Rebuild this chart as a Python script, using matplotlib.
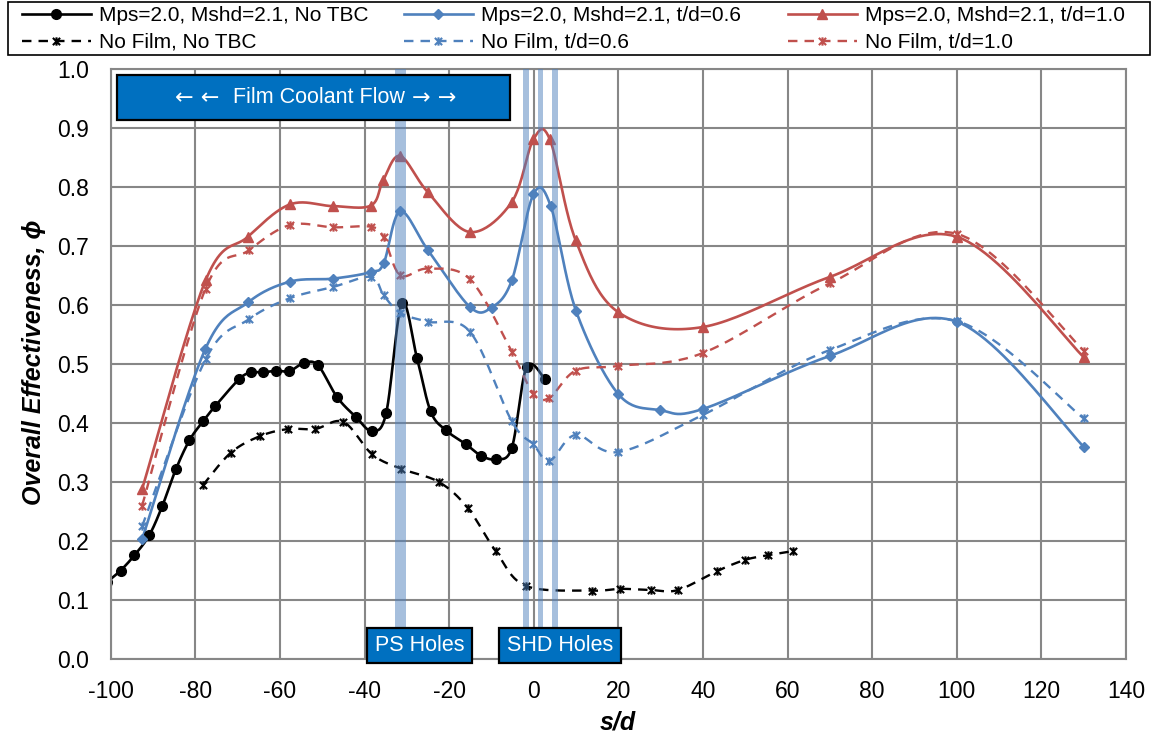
import numpy as np
import matplotlib
matplotlib.use("Agg")
import matplotlib.pyplot as plt
from matplotlib.path import Path
from matplotlib.patches import Rectangle

plt.rcParams['font.family'] = ['Liberation Sans', 'DejaVu Sans']

# ---- data -------------------------------------------------------------
sd_film_notbc = [-101.0, -97.7, -94.4, -90.9, -87.8, -84.6, -81.4, -78.2, -75.3, -69.6,
                 -66.8, -64.0, -60.9, -57.8, -54.3, -51.0, -46.5, -42.0, -38.3, -34.9,
                 -31.2, -27.6, -24.4, -20.8, -16.0, -12.5, -9.0, -5.2, -1.7, 2.6]
phi_film_notbc = [0.130, 0.150, 0.176, 0.210, 0.260, 0.322, 0.371, 0.403, 0.429, 0.475,
                  0.486, 0.486, 0.489, 0.488, 0.502, 0.498, 0.444, 0.410, 0.387, 0.417,
                  0.603, 0.510, 0.420, 0.388, 0.364, 0.345, 0.339, 0.358, 0.495, 0.475]

sd_nofilm_notbc = [-78.2, -71.6, -64.7, -58.1, -51.7, -45.0, -38.2, -31.5, -22.4, -15.6,
                   -9.0, -1.9, 13.7, 20.4, 27.7, 34.1, 43.3, 49.9, 55.4, 61.3]
phi_nofilm_notbc = [0.295, 0.350, 0.378, 0.390, 0.390, 0.402, 0.347, 0.323, 0.300, 0.256,
                    0.183, 0.124, 0.116, 0.119, 0.117, 0.117, 0.149, 0.168, 0.176, 0.183]

sd_film_06 = [-92.6, -77.7, -67.5, -57.6, -47.5, -38.6, -35.5, -31.6, -25.0, -15.1, -10.0,
              -5.2, -0.1, 4.0, 10.0, 20.0, 29.9, 40.0, 70.0, 100.0, 130.0]
phi_film_06 = [0.203, 0.525, 0.605, 0.640, 0.645, 0.656, 0.671, 0.759, 0.693, 0.597, 0.596,
               0.642, 0.788, 0.768, 0.590, 0.449, 0.422, 0.424, 0.514, 0.572, 0.360]

sd_film_10 = [-92.6, -77.6, -67.6, -57.6, -47.5, -38.5, -35.6, -31.6, -25.1, -15.1, -5.2,
              -0.1, 3.8, 9.9, 20.0, 40.0, 70.0, 100.0, 130.0]
phi_film_10 = [0.288, 0.642, 0.716, 0.771, 0.768, 0.769, 0.812, 0.853, 0.792, 0.724, 0.775,
               0.881, 0.881, 0.710, 0.588, 0.563, 0.648, 0.716, 0.512]

sd_nofilm = [-92.6, -77.6, -67.4, -57.6, -47.4, -38.5, -35.5, -31.6, -25.1, -15.1, -5.2,
             -0.1, 3.7, 9.9, 20.0, 40.0, 70.0, 100.0, 130.0]
phi_nofilm_06 = [0.225, 0.508, 0.576, 0.612, 0.631, 0.648, 0.617, 0.587, 0.572, 0.555, 0.403,
                 0.364, 0.336, 0.380, 0.351, 0.414, 0.524, 0.573, 0.408]
phi_nofilm_10 = [0.260, 0.628, 0.693, 0.736, 0.732, 0.733, 0.715, 0.651, 0.662, 0.644, 0.521,
                 0.450, 0.443, 0.489, 0.497, 0.519, 0.637, 0.721, 0.523]

labels = ["Mps=2.0, Mshd=2.1, No TBC", "No Film, No TBC",
          "Mps=2.0, Mshd=2.1, t/d=0.6", "No Film, t/d=0.6",
          "Mps=2.0, Mshd=2.1, t/d=1.0", "No Film, t/d=1.0"]

ps_holes = [-31.5]
shd_holes = [-1.8, 1.6, 5.0]

x_ticks = list(range(-100, 141, 20))
y_ticks = [round(0.1 * i, 1) for i in range(11)]

BLACK, BLUE, RED = "#000000", "#4F81BD", "#C0504D"
BOX = "#0070C0"
W, H = 1156, 738


def smooth(x, y, n=24):
    """Bezier smoothing through the points (Catmull-Rom style control points)."""
    P = np.column_stack([np.asarray(x, float), np.asarray(y, float)])
    out = [P[0]]
    t = np.linspace(0, 1, n + 1)[1:][:, None]
    for i in range(len(P) - 1):
        p0 = P[i - 1] if i > 0 else P[i]
        p1, p2 = P[i], P[i + 1]
        p3 = P[i + 2] if i + 2 < len(P) else P[i + 1]
        c1 = p1 + (p2 - p0) / 6.0
        c2 = p2 - (p3 - p1) / 6.0
        seg = ((1 - t) ** 3) * p1 + 3 * ((1 - t) ** 2) * t * c1 + 3 * (1 - t) * t ** 2 * c2 + t ** 3 * p2
        out.extend(seg)
    out = np.array(out)
    return out[:, 0], out[:, 1]


# asterisk-style marker: an X with a vertical bar
star = Path([(-1, -1), (1, 1), (-1, 1), (1, -1), (0, -1.15), (0, 1.15)],
            [Path.MOVETO, Path.LINETO, Path.MOVETO, Path.LINETO, Path.MOVETO, Path.LINETO])

fig = plt.figure(figsize=(W / 100, H / 100), dpi=100)
ax = fig.add_axes([110.8 / W, 1 - 659 / H, (1126 - 110.8) / W, (659 - 69.3) / H])

series = [
    (sd_film_notbc, phi_film_notbc, BLACK, "-", "o", 7, 1.9),
    (sd_nofilm_notbc, phi_nofilm_notbc, BLACK, (0, (4, 3)), star, 6, 1.7),
    (sd_film_06, phi_film_06, BLUE, "-", "D", 5, 1.9),
    (sd_nofilm, phi_nofilm_06, BLUE, (0, (4, 3)), star, 6, 1.7),
    (sd_film_10, phi_film_10, RED, "-", "^", 7, 1.9),
    (sd_nofilm, phi_nofilm_10, RED, (0, (4, 3)), star, 6, 1.7),
]

handles = []
for (xs, ys, col, ls, mk, ms, lw), lab in zip(series, labels):
    sx, sy = smooth(xs, ys)
    ax.plot(sx, sy, color=col, linestyle=ls, linewidth=lw, zorder=2)
    mew = 1.5 if mk is star else 1.0
    ax.plot(xs, ys, linestyle="none", marker=mk, markersize=ms, color=col,
            markeredgecolor=col, markeredgewidth=mew, zorder=2.5)
    h, = ax.plot([], [], color=col, linestyle=ls, linewidth=lw, marker=mk, markersize=ms,
                 markeredgecolor=col, markeredgewidth=mew)
    handles.append(h)

# hole locations
for c in ps_holes:
    ax.axvspan(c - 1.3, c + 1.3, color=BLUE, alpha=0.5, lw=0, zorder=3)
for c in shd_holes:
    ax.axvspan(c - 0.65, c + 0.65, color=BLUE, alpha=0.5, lw=0, zorder=3)

ax.set_xlim(-100, 140)
ax.set_ylim(0, 1.0)
ax.set_xticks(x_ticks)
ax.set_yticks(y_ticks)
ax.set_xticklabels([str(v) for v in x_ticks])
ax.set_yticklabels([f"{v:.1f}" for v in y_ticks])
ax.tick_params(axis="both", length=0, labelsize=16.5, colors="black")
ax.tick_params(axis="y", pad=15.5)
ax.tick_params(axis="x", pad=15)
ax.grid(True, color="#878787", linewidth=1.5, zorder=0)
ax.set_axisbelow(True)
for sp in ax.spines.values():
    sp.set_color("#878787")
    sp.set_linewidth(1.5)

fig.text(618 / W, 1 - 722 / H, "s/d", fontsize=18, fontweight="bold",
         fontstyle="italic", ha="center", va="center")
fig.text(34 / W, 1 - 362 / H, "Overall Effectiveness, \u03d5", fontsize=18,
         fontweight="bold", fontstyle="italic", rotation=90, ha="center", va="center")


# annotation boxes
def label_box(x0, x1, y0, y1, text, size):
    ax.add_patch(Rectangle((x0, y0), x1 - x0, y1 - y0, facecolor=BOX, edgecolor="black",
                           linewidth=1.6, zorder=4, clip_on=False))
    if text:
        ax.text((x0 + x1) / 2, (y0 + y1) / 2, text, color="white", fontsize=size,
                ha="center", va="center", zorder=5, clip_on=False)


label_box(-98.5, -5.6, 0.914, 0.990, "", 15.5)
flow_y = (0.914 + 0.990) / 2
ax.text(-79.6, flow_y, "\u2190 \u2190", color="white", fontsize=16, family="DejaVu Sans",
        ha="center", va="center", zorder=5)
ax.text(-50.8, flow_y, "Film Coolant Flow", color="white", fontsize=15.5,
        ha="center", va="center", zorder=5)
ax.text(-23.6, flow_y, "\u2192 \u2192", color="white", fontsize=16, family="DejaVu Sans",
        ha="center", va="center", zorder=5)
label_box(-39.4, -14.6, -0.007, 0.052, "PS Holes", 15.5)
label_box(-8.2, 20.5, -0.007, 0.052, "SHD Holes", 15.5)

# legend: three columns placed individually inside one frame
col_x = [22, 404, 788]
for k, x0 in enumerate(col_x):
    fig.legend(handles=handles[2 * k:2 * k + 2], labels=labels[2 * k:2 * k + 2],
               loc="center left", bbox_to_anchor=(x0 / W, 1 - 29 / H),
               frameon=False, fontsize=15, handlelength=3.3, handletextpad=0.4,
               borderpad=0, borderaxespad=0, labelspacing=0.38)
fig.patches.append(Rectangle((8 / W, 1 - 55 / H), 1142 / W, 53 / H, transform=fig.transFigure,
                             fill=False, edgecolor="black", linewidth=1.2))

fig.savefig("out.png", dpi=100)
